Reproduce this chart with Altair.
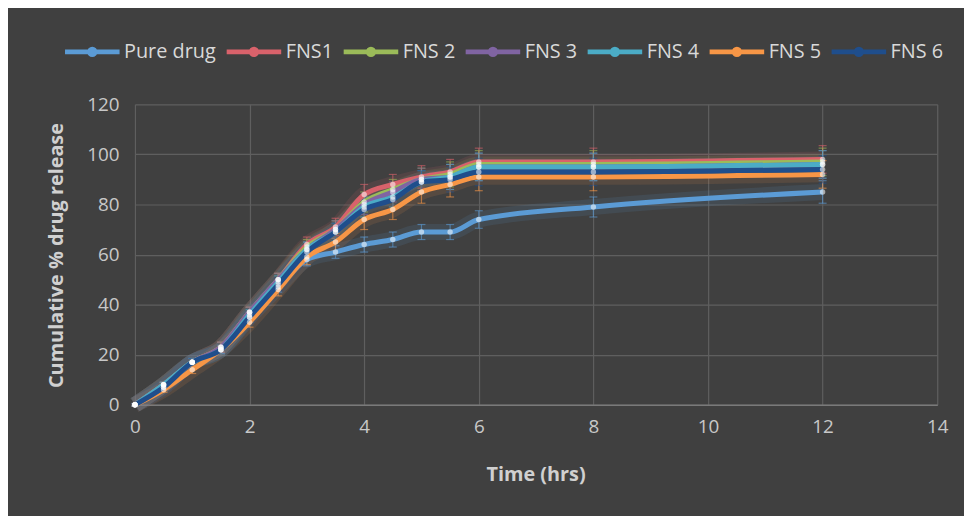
import altair as alt
import pandas as pd

# ---- data ----
time = [0, 0.5, 1, 1.5, 2, 2.5, 3, 3.5, 4, 4.5, 5, 5.5, 6, 8, 12]
series_names = ["Pure drug", "FNS1", "FNS 2", "FNS 3", "FNS 4", "FNS 5", "FNS 6"]
series_colors = ["#5B9BD5", "#D9626B", "#9BBB59", "#8064A2", "#4BACC6", "#F79646", "#1F4E8C"]

pure = [0, 7, 17, 22, 35, 47, 58, 61, 64, 66, 69, 69, 74, 79, 85]
fns1 = [0, 8, 17, 23, 37, 50, 64, 71, 84, 88, 91, 93, 97, 97, 98]
fns2 = [0, 8, 17, 23, 37, 50, 63, 70, 81, 86, 90, 92, 96, 96, 97]
fns3 = [0, 8, 17, 23, 37, 50, 62, 70, 80, 85, 90, 91, 95, 95, 96]
fns4 = [0, 8, 17, 22, 36, 49, 62, 69, 79, 83, 89, 91, 95, 95, 96]
fns5 = [0, 6, 14, 22, 33, 46, 59, 65, 74, 78, 85, 88, 91, 91, 92]
fns6 = [0, 7, 17, 22, 35, 48, 61, 69, 78, 82, 89, 90, 93, 93, 94]

err_pure = [0.5, 1, 1.5, 1.5, 2, 2, 2.5, 2.5, 3, 3, 3, 3, 3.5, 4, 4.5]
err_fns = [0.5, 1, 1.5, 2, 2, 2.5, 3, 3.5, 4, 4, 4.5, 5, 5.5, 5.5, 5.5]

values = [pure, fns1, fns2, fns3, fns4, fns5, fns6]
errors = [err_pure, err_fns, err_fns, err_fns, err_fns, err_fns, err_fns]

rows = []
for order, (name, vals, errs) in enumerate(zip(series_names, values, errors)):
    for t, v, e in zip(time, vals, errs):
        rows.append({"series": name, "order": order, "time": t, "value": v,
                     "lo": v - e, "hi": v + e})
df = pd.DataFrame(rows)

legend = alt.Legend(orient="none", legendX=-73, legendY=-83, direction="horizontal",
                    title=None,
                    symbolType="M-1,0H1M0.1,0A0.1,0.1,0,1,1,-0.1,0A0.1,0.1,0,1,1,0.1,0",
                    symbolSize=3025, symbolStrokeWidth=5, symbolFillColor="#dce6f2",
                    symbolOpacity=1,
                    labelFont="Open Sans", labelFontSize=20, labelColor="#d9d9d9", labelOffset=2,
                    columnPadding=0)
color = alt.Color("series:N", scale=alt.Scale(domain=series_names, range=series_colors),
                  sort=series_names, legend=legend)

x_axis = alt.Axis(values=list(range(0, 15, 2)), format="d", title="Time (hrs)", labelFlush=False,
                  titleX=404, titleY=70, titleBaseline="middle")
y_axis = alt.Axis(values=list(range(0, 121, 20)), format="d", title="Cumulative % drug release",
                  titleX=-79, titleY=152, titleBaseline="middle", titleAngle=-90)
x = alt.X("time:Q", scale=alt.Scale(domain=[0, 14], nice=False), axis=x_axis)
y = alt.Y("value:Q", scale=alt.Scale(domain=[0, 120], nice=False), axis=y_axis)

base = alt.Chart(df)

glow = base.mark_line(strokeWidth=16, opacity=0.12, interpolate="monotone").encode(
    x=x, y=y, color=color, order="order:Q", detail="series:N")

errbars = base.mark_errorbar(ticks=alt.MarkConfig(size=8), thickness=1.2, opacity=0.6).encode(
    x=x,
    y=alt.Y("lo:Q", scale=alt.Scale(domain=[0, 120], nice=False), axis=y_axis),
    y2="hi:Q",
    color=color,
)

lines = base.mark_line(strokeWidth=5, interpolate="monotone").encode(
    x=x, y=y, color=color, order="order:Q")

points = base.mark_circle(size=30, color="white", opacity=0.55).encode(x=x, y=y)

chart = alt.layer(glow, errbars, lines, points).properties(
    width=809, height=303,
    autosize=alt.AutoSizeParams(type="none"),
    padding={"left": 128, "top": 95, "right": 27, "bottom": 110},
    background="#404040",
).configure_view(stroke=None).configure_axis(
    grid=True, gridColor="#5f5f5f", gridWidth=1.2,
    domain=False, ticks=False,
    labelFont="Open Sans", labelFontSize=19, labelColor="#c8c8c8",
    titleFont="Open Sans", titleFontSize=20, titleFontWeight="bold", titleColor="#d0d0d0",
).configure_axisX(labelPadding=13, domain=True, domainColor="#7a7a7a", domainWidth=1.5).configure_axisY(labelPadding=16)

chart.save("out.html", embed_options={"renderer": "svg", "actions": False})
